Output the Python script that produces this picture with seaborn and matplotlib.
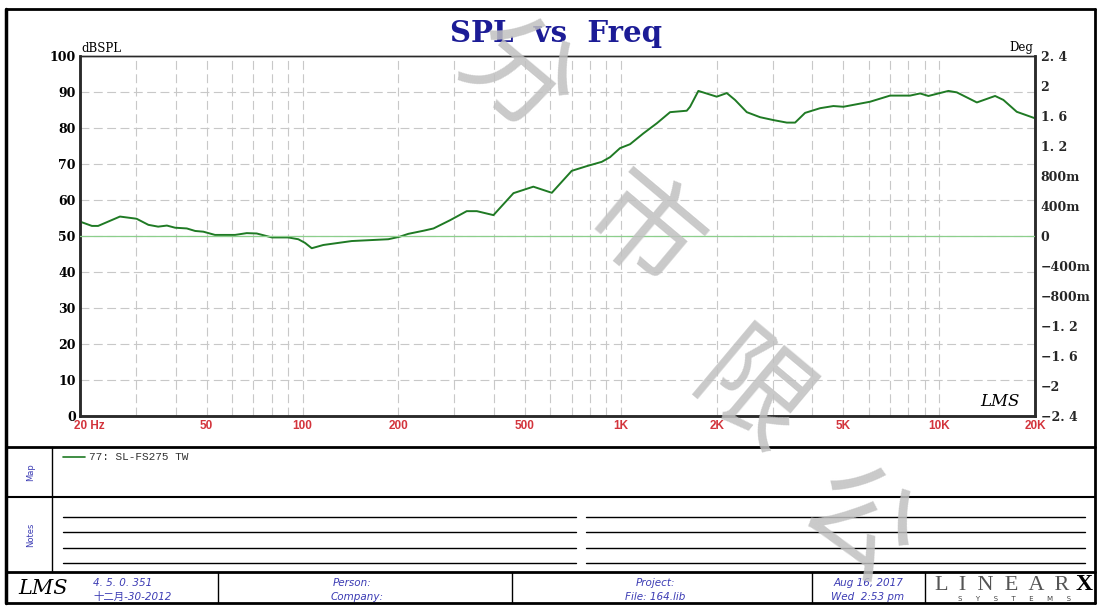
import matplotlib
matplotlib.use("Agg")
import matplotlib.pyplot as plt
import matplotlib.transforms as mtransforms
from matplotlib.ticker import NullFormatter
from matplotlib.lines import Line2D
import seaborn as sns

# estilo base
sns.set_theme(style="white")
plt.rcParams['font.family'] = ['DejaVu Sans', 'Noto Sans CJK SC']

# --- dados ---
freq = [20, 21.8, 22.8, 26.7, 30.1, 32.8, 35.2, 37.5, 39.8, 43.3, 46.0, 48.8,
        53.1, 61.4, 66.8, 71.8, 80.1, 90.2, 97.0, 101.8, 106.9, 116.2, 142.8,
        186, 202, 215, 241, 258, 291, 328, 353, 398, 460, 531, 607, 701, 781,
        871, 925, 994, 1069, 1177, 1297, 1428, 1611, 1650, 1752, 2001, 2152,
        2284, 2487, 2738, 3014, 3322, 3527, 3791, 4226, 4652, 5002, 6068, 7010,
        8102, 8710, 9250, 10692, 11360, 13134, 14986, 15910, 17528, 20000]
spl = [54.0, 52.8, 52.8, 55.4, 54.8, 53.1, 52.6, 52.9, 52.3, 52.1, 51.4, 51.2,
       50.3, 50.3, 50.8, 50.7, 49.6, 49.6, 49.1, 48.1, 46.6, 47.5, 48.6,
       49.1, 49.8, 50.6, 51.5, 52.1, 54.4, 56.9, 56.9, 55.8, 61.9, 63.7, 62.0,
       68.1, 69.4, 70.6, 71.9, 74.4, 75.5, 78.5, 81.3, 84.4, 84.8, 85.9, 90.3,
       88.7, 89.7, 87.8, 84.4, 83.0, 82.2, 81.5, 81.5, 84.2, 85.5, 86.1, 85.9,
       87.3, 89.0, 89.0, 89.6, 88.9, 90.3, 89.9, 87.1, 88.9, 87.8, 84.5, 82.7]
phase_freq = [20, 20000]
phase = [0, 0]

y_ticks = [0, 10, 20, 30, 40, 50, 60, 70, 80, 90, 100]
x_ticks = [20, 50, 100, 200, 500, 1000, 2000, 5000, 10000, 20000]
x_labels = ["20 Hz", "50", "100", "200", "500", "1K", "2K", "5K", "10K", "20K"]
grid_freqs = [m * 10 ** d for d in range(1, 5) for m in range(1, 10)
              if 20 <= m * 10 ** d <= 20000]
deg_ticks = [-2.4, -2.0, -1.6, -1.2, -0.8, -0.4, 0, 0.4, 0.8, 1.2, 1.6, 2.0, 2.4]
deg_labels = ["\u22122. 4", "\u22122", "\u22121. 6", "\u22121. 2", "\u2212800m",
              "\u2212400m", "0", "400m", "800m", "1. 2", "1. 6", "2", "2. 4"]

CURVE = "#1f7a24"
PHASE = "#8ccf8c"
GRID = "#c8c8c8"
RED = "#d3343c"
BLUE = "#3c3cb4"
DARK = "#2a2a2a"

W, H = 1101, 606
fig = plt.figure(figsize=(W / 100, H / 100), dpi=100)
fig.patch.set_facecolor("white")


def fx(px):
    return px / W


def fy(py):
    return 1 - py / H


def linha(x0, y0, x1, y1, lw=1.0, color="black"):
    fig.add_artist(Line2D([fx(x0), fx(x1)], [fy(y0), fy(y1)],
                          transform=fig.transFigure, lw=lw, color=color))


# --- gráfico principal ---
ax = fig.add_axes([fx(80), fy(416), fx(1035) - fx(80), fy(56) - fy(416)])
sns.lineplot(x=freq, y=spl, ax=ax, color=CURVE, lw=1.4, sort=False,
             estimator=None, zorder=4)
ax.set_xscale("log")
ax.set_xlim(20, 20000)
ax.set_ylim(0, 100)
ax.set_xticks(x_ticks, x_labels)
ax.set_xticks(grid_freqs, minor=True)
ax.xaxis.set_minor_formatter(NullFormatter())
ax.set_yticks(y_ticks)
ax.grid(True, which="both", axis="x", color=GRID, ls=(0, (8, 4)), lw=0.8)
ax.grid(True, which="major", axis="y", color=GRID, ls=(0, (8, 4)), lw=0.8)
ax.tick_params(which="both", length=0)
ax.tick_params(axis="x", pad=3, labelsize=8.5, labelcolor=RED)
ax.tick_params(axis="y", pad=3, labelsize=9, labelcolor="black")
for t in ax.get_xticklabels():
    t.set_fontweight("bold")
    t.set_fontfamily("Liberation Sans")
for t in ax.get_yticklabels():
    t.set_fontweight("bold")
    t.set_fontfamily("DejaVu Serif")
primeiro = ax.get_xticklabels()[0]
primeiro.set_horizontalalignment("left")
primeiro.set_transform(primeiro.get_transform() +
                       mtransforms.ScaledTranslation(-0.06, 0, fig.dpi_scale_trans))
ax.set_xlabel("")
ax.set_ylabel("")

# eixo da fase (Deg)
ax2 = ax.twinx()
sns.lineplot(x=phase_freq, y=phase, ax=ax2, color=PHASE, lw=0.9, zorder=3)
ax2.set_xlim(20, 20000)
ax2.set_ylim(-2.4, 2.4)
ax2.set_yticks(deg_ticks, deg_labels)
ax2.grid(False)
ax2.tick_params(length=0, pad=4, labelsize=9)
for t in ax2.get_yticklabels():
    t.set_fontweight("bold")
    t.set_fontfamily("DejaVu Serif")
ax2.set_ylabel("")

for a in (ax, ax2):
    for lado in ("left", "bottom", "right"):
        a.spines[lado].set_color(DARK)
        a.spines[lado].set_linewidth(1.8)
    a.spines["top"].set_color(DARK)
    a.spines["top"].set_linewidth(1.0)

fig.text(fx(81), fy(48), "dBSPL", ha="left", va="center", size=8.5,
         family="DejaVu Serif", color="black")
fig.text(fx(1033), fy(48), "Deg", ha="right", va="center", size=8.5,
         family="DejaVu Serif", color="black")
fig.text(fx(556), fy(34), "SPL  vs  Freq", ha="center", va="center", size=21,
         family="DejaVu Serif", weight="bold", color="#1c1c96")
fig.text(fx(1000), fy(402), "LMS", ha="center", va="center", size=12,
         family="DejaVu Serif", style="italic", color="black")

# --- moldura e painéis ---
linha(6, 9, 1095, 9, lw=2)
linha(6, 9, 6, 603, lw=2.5)
linha(1095, 9, 1095, 603, lw=2)
linha(6, 603, 1095, 603, lw=2)
linha(6, 447, 1095, 447, lw=2)
linha(6, 497, 1095, 497, lw=1.5)
linha(6, 572, 1095, 572, lw=2)
linha(52, 447, 52, 572, lw=1)
for xd in (218, 512, 812, 925):
    linha(xd, 572, xd, 603, lw=1)
for yn in (517, 532, 548, 563):
    linha(63, yn, 576, yn, lw=1)
    linha(586, yn, 1085, yn, lw=1)

# legenda (Map)
linha(63, 457, 85, 457, lw=1.2, color=CURVE)
fig.text(fx(89), fy(457), "77: SL-FS275 TW", ha="left", va="center", size=8,
         family="Liberation Mono", color="#333333")
fig.text(fx(31), fy(472), "Map", ha="center", va="center", size=6,
         rotation=90, color=BLUE)
fig.text(fx(31), fy(535), "Notes", ha="center", va="center", size=6,
         rotation=90, color=BLUE)

# rodapé
fig.text(fx(43), fy(589), "LMS", ha="center", va="center", size=15,
         family="DejaVu Serif", style="italic", color="black")
fig.text(fx(93), fy(583), "4. 5. 0. 351", ha="left", va="center", size=7.5,
         style="italic", color=BLUE)
fig.text(fx(93), fy(597), "十二月-30-2012", ha="left", va="center", size=7.5,
         style="italic", color=BLUE, family=["DejaVu Sans", "Noto Sans CJK SC"])
fig.text(fx(333), fy(583), "Person:", ha="left", va="center", size=7.5,
         style="italic", color=BLUE)
fig.text(fx(331), fy(597), "Company:", ha="left", va="center", size=7.5,
         style="italic", color=BLUE)
fig.text(fx(655), fy(583), "Project:", ha="center", va="center", size=7.5,
         style="italic", color=BLUE)
fig.text(fx(655), fy(597), "File: 164.lib", ha="center", va="center", size=7.5,
         style="italic", color=BLUE)
fig.text(fx(868), fy(583), "Aug 16, 2017", ha="center", va="center", size=7.5,
         style="italic", color=BLUE)
fig.text(fx(868), fy(597), "Wed  2:53 pm", ha="center", va="center", size=7.5,
         style="italic", color=BLUE)
fig.text(fx(935), fy(585), "L  I  N  E  A  R", ha="left", va="center", size=16,
         family="Liberation Serif", color="#555555")
fig.text(fx(1093), fy(585), "X", ha="right", va="center", size=17,
         family="Liberation Serif", weight="bold", color="black")
fig.text(fx(1015), fy(599), "S      Y      S      T      E      M      S",
         ha="center", va="center", size=5, color="#444444")

# marca d'água
for ch, (px, py) in zip(["分", "市", "限", "公"],
                        [(515, 78), (640, 235), (750, 398), (856, 528)]):
    fig.text(fx(px), fy(py), ch, ha="center", va="center", size=80,
             rotation=-40, color="#c0c0c0", alpha=0.85,
             family=["Noto Sans CJK SC", "DejaVu Sans"], zorder=10)

fig.savefig("out.png", dpi=100)
